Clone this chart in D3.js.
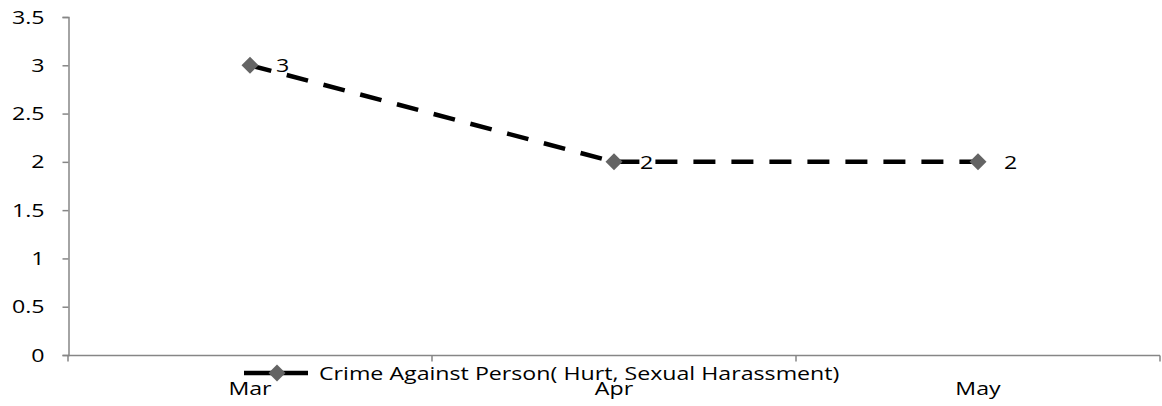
<!DOCTYPE html>
<html>
<head>
<meta charset="utf-8">
<script src="https://cdn.jsdelivr.net/npm/d3@7"></script>
<style>
  body { margin: 0; background: #fff; }
  text { font-family: "Open Sans", sans-serif; fill: #000; }
</style>
</head>
<body>
<svg id="chart"></svg>
<script>
/*
  Line chart - crime against person
*/

var categories = ["Mar", "Apr", "May"],
    values = [3, 2, 2],
    yTicks = [0, 0.5, 1, 1.5, 2, 2.5, 3, 3.5],
    seriesName = "Crime Against Person( Hurt, Sexual Harassment)";

var width = 1162,
    height = 406,
    plot = {left: 68, right: 1160, top: 17, bottom: 355},
    fontSize = 19,
    sx = 1.22,   // text looks stretched sideways in the reference
    axisColor = "#868686",
    markerColor = "#646464";

var svg = d3.select("#chart")
    .attr("width", width)
    .attr("height", height);

var x = d3.scaleBand()
          .domain(categories)
          .range([plot.left, plot.right]),
    y = d3.scaleLinear()
          .domain([0, 3.5])
          .range([plot.bottom, plot.top]);

function cx(d) { return x(d) + x.bandwidth() / 2; }

// y axis
var yAxis = svg.append("g")
    .attr("transform", "translate(" + (plot.left + 0.5) + ",0)")
    .call(d3.axisLeft(y).tickValues(yTicks).tickSize(6).tickFormat(function(d){ return String(d); }));

yAxis.select(".domain").attr("stroke", axisColor).attr("stroke-width", 1.5);
yAxis.selectAll(".tick line").attr("stroke", axisColor).attr("stroke-width", 1.5);
yAxis.selectAll(".tick text")
    .attr("x", -24 / sx)
    .attr("transform", "scale(" + sx + ",1)")
    .style("font-size", fontSize + "px")
    .style("font-family", "Open Sans");

// x axis: labels at band centres, ticks at band edges
var xAxis = svg.append("g")
    .attr("transform", "translate(0," + (plot.bottom + 0.5) + ")")
    .call(d3.axisBottom(x).tickSize(0).tickPadding(26));

xAxis.select(".domain").remove();
xAxis.selectAll(".tick text")
    .attr("transform", "scale(" + sx + ",1)")
    .style("font-size", fontSize + "px")
    .style("font-family", "Open Sans");

xAxis.append("line")
    .attr("x1", plot.left)
    .attr("x2", plot.right)
    .attr("stroke", axisColor)
    .attr("stroke-width", 1.5);

xAxis.selectAll(".edge")
    .data(categories.map(function(d){ return x(d); }).concat([x.range()[1]]))
  .enter().append("line")
    .attr("class", "edge")
    .attr("x1", function(d){ return d; })
    .attr("x2", function(d){ return d; })
    .attr("y1", 0)
    .attr("y2", 6)
    .attr("stroke", axisColor)
    .attr("stroke-width", 1.5);

// the series line
var line = d3.line()
    .x(function(d, i){ return cx(categories[i]); })
    .y(function(d){ return y(d); });

svg.append("path")
    .datum(values)
    .attr("d", line)
    .attr("fill", "none")
    .attr("stroke", "#000")
    .attr("stroke-width", 4.5)
    .attr("stroke-dasharray", "22,16");

var diamond = d3.symbol().type(d3.symbolSquare).size(144);

svg.selectAll(".marker")
    .data(values)
  .enter().append("path")
    .attr("class", "marker")
    .attr("d", diamond)
    .attr("fill", markerColor)
    .attr("transform", function(d, i){
      return "translate(" + cx(categories[i]) + "," + y(d) + ") rotate(45)";
    });

// data labels
svg.selectAll(".label")
    .data(values)
  .enter().append("text")
    .attr("class", "label")
    .attr("transform", function(d, i){
      return "translate(" + (cx(categories[i]) + 26) + "," + y(d) + ") scale(" + sx + ",1)";
    })
    .attr("dy", "0.35em")
    .style("font-size", fontSize + "px")
    .text(function(d){ return d; });

// legend
var legend = svg.append("g")
    .attr("transform", "translate(244,373)");

legend.append("line")
    .attr("x1", 0)
    .attr("x2", 64)
    .attr("stroke", "#000")
    .attr("stroke-width", 4.5);

legend.append("path")
    .attr("d", diamond)
    .attr("fill", markerColor)
    .attr("transform", "translate(33,0) rotate(45)");

legend.append("text")
    .attr("transform", "translate(75,0) scale(" + sx + ",1)")
    .attr("dy", "0.35em")
    .style("font-size", fontSize + "px")
    .text(seriesName);
</script>
</body>
</html>
